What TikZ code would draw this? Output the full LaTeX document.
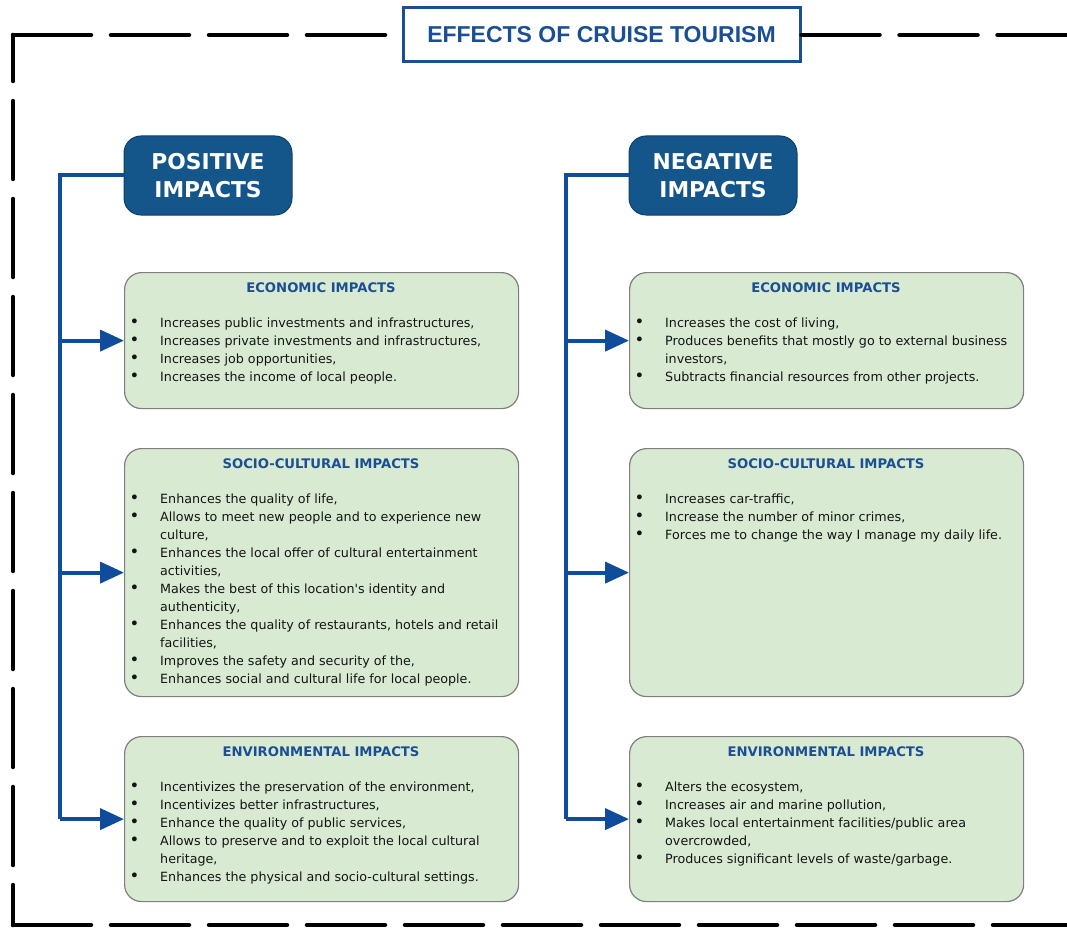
\documentclass[tikz,border=0pt]{standalone}
\usepackage{fontspec}
\setmainfont{DejaVu Sans}[Ligatures=TeXOff]
\newfontfamily\titlefont{Liberation Sans}
\usetikzlibrary{arrows.meta}
\definecolor{tblue}{HTML}{1B4F93}
\definecolor{hblue}{HTML}{15568A}
\definecolor{hdraw}{HTML}{0E3F6A}
\definecolor{cblue}{HTML}{0F4C9C}
\definecolor{gfill}{HTML}{D9EAD3}
\definecolor{gdraw}{HTML}{7F7F7F}
\definecolor{txt}{HTML}{141414}
\newcommand\bi[1]{\makebox[30.7pt][l]{\raisebox{-0.6pt}{\scalebox{1.3}{\textbullet}}}#1}
\newcommand\bc[1]{\hspace*{30.7pt}#1}
\tikzset{
  frame/.style={line width=4.5pt, line cap=round, dash pattern=on 78pt off 20pt},
  titlebox/.style={draw=tblue, line width=3pt, fill=white, minimum width=397pt,
    minimum height=54pt, inner sep=0pt, text=tblue,
    font=\titlefont\bfseries\fontsize{23}{23}\selectfont},
  headbox/.style={draw=hdraw, line width=1pt, fill=hblue, rounded corners=17pt,
    minimum width=168pt, minimum height=79pt, inner sep=0pt, text=white, align=center,
    font=\bfseries\fontsize{21.8}{28}\selectfont},
  gbox/.style={draw=gdraw, line width=1.2pt, fill=gfill, rounded corners=17pt,
    minimum width=394pt, inner sep=0pt, anchor=north west},
  btitle/.style={anchor=base, inner sep=0pt, text=tblue,
    font=\bfseries\fontsize{13.2}{16}\selectfont},
  blist/.style={anchor=base west, inner sep=0pt, text=txt,
    font=\fontsize{12.7}{18}\selectfont},
  conn/.style={draw=cblue, line width=4pt},
  arr/.style={draw=cblue, line width=4pt, -{Triangle[length=24pt,width=21pt]}},
}
\begin{document}
\begin{tikzpicture}[x=1pt,y=-1pt]
\useasboundingbox (0,0) rectangle (1067,928);
% title
\node[titlebox] (title) at (601.5,35) {EFFECTS OF CRUISE TOURISM};
% dashed frame
\draw[frame, dash phase=32pt] (13,35) -- (13,925);
\draw[frame] (13,35) -- (title.west);
\draw[frame] (title.east) -- (1100,35);
\draw[frame] (13,925) -- (1100,925);
% headers
\node[headbox] (posh) at (208,175.5) {POSITIVE\\IMPACTS};
\node[headbox] (negh) at (713,175.5) {NEGATIVE\\IMPACTS};
% boxes positive
\node[gbox, minimum height=136pt] (pe) at (124,272) {};
\node[gbox, minimum height=248pt] (ps) at (124,448) {};
\node[gbox, minimum height=165pt] (pv) at (124,736) {};
% boxes negative
\node[gbox, minimum height=136pt] (ne) at (629,272) {};
\node[gbox, minimum height=248pt] (ns) at (629,448) {};
\node[gbox, minimum height=165pt] (nv) at (629,736) {};
% box titles
\node[btitle] (pet) at (321,292) {ECONOMIC IMPACTS};
\node[btitle] (pst) at (321,468) {SOCIO-CULTURAL IMPACTS};
\node[btitle] (pvt) at (321,756) {ENVIRONMENTAL IMPACTS};
\node[btitle] (net) at (826,292) {ECONOMIC IMPACTS};
\node[btitle] (nst) at (826,468) {SOCIO-CULTURAL IMPACTS};
\node[btitle] (nvt) at (826,756) {ENVIRONMENTAL IMPACTS};
% lists
\node[blist] (pel) at (129.3,327) {\begin{tabular}[t]{@{}l@{}}
\bi{Increases public investments and infrastructures,}\\
\bi{Increases private investments and infrastructures,}\\
\bi{Increases job opportunities,}\\
\bi{Increases the income of local people.}
\end{tabular}};
\node[blist] (psl) at (129.3,503) {\begin{tabular}[t]{@{}l@{}}
\bi{Enhances the quality of life,}\\
\bi{Allows to meet new people and to experience new}\\
\bc{culture,}\\
\bi{Enhances the local offer of cultural entertainment}\\
\bc{activities,}\\
\bi{Makes the best of this location's identity and}\\
\bc{authenticity,}\\
\bi{Enhances the quality of restaurants, hotels and retail}\\
\bc{facilities,}\\
\bi{Improves the safety and security of the,}\\
\bi{Enhances social and cultural life for local people.}
\end{tabular}};
\node[blist] (pvl) at (129.3,791) {\begin{tabular}[t]{@{}l@{}}
\bi{Incentivizes the preservation of the environment,}\\
\bi{Incentivizes better infrastructures,}\\
\bi{Enhance the quality of public services,}\\
\bi{Allows to preserve and to exploit the local cultural}\\
\bc{heritage,}\\
\bi{Enhances the physical and socio-cultural settings.}
\end{tabular}};
\node[blist] (nel) at (634.3,327) {\begin{tabular}[t]{@{}l@{}}
\bi{Increases the cost of living,}\\
\bi{Produces benefits that mostly go to external business}\\
\bc{investors,}\\
\bi{Subtracts financial resources from other projects.}
\end{tabular}};
\node[blist] (nsl) at (634.3,503) {\begin{tabular}[t]{@{}l@{}}
\bi{Increases car-traffic,}\\
\bi{Increase the number of minor crimes,}\\
\bi{Forces me to change the way I manage my daily life.}
\end{tabular}};
\node[blist] (nvl) at (634.3,791) {\begin{tabular}[t]{@{}l@{}}
\bi{Alters the ecosystem,}\\
\bi{Increases air and marine pollution,}\\
\bi{Makes local entertainment facilities/public area}\\
\bc{overcrowded,}\\
\bi{Produces significant levels of waste/garbage.}
\end{tabular}};
% connectors
\coordinate (ptrunk) at (60,175.5);
\coordinate (ntrunk) at (566,175.5);
\draw[conn] (posh.west) -- (ptrunk) -- (ptrunk |- pv.west);
\draw[arr] (ptrunk |- pe.west) -- (pe.west);
\draw[arr] (ptrunk |- ps.west) -- (ps.west);
\draw[arr] (ptrunk |- pv.west) -- (pv.west);
\draw[conn] (negh.west) -- (ntrunk) -- (ntrunk |- nv.west);
\draw[arr] (ntrunk |- ne.west) -- (ne.west);
\draw[arr] (ntrunk |- ns.west) -- (ns.west);
\draw[arr] (ntrunk |- nv.west) -- (nv.west);
\end{tikzpicture}
\end{document}
